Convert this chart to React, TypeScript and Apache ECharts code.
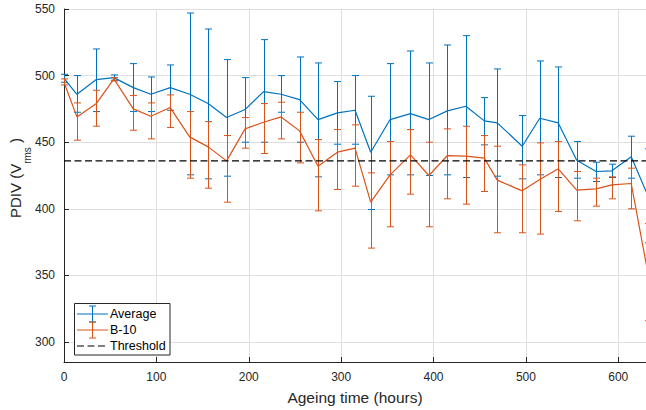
import React, { useEffect, useRef } from "react";
import * as echarts from "echarts";

// Ageing time (hours)
const times = [0, 14, 35, 54, 75, 94, 115, 136, 156, 176, 196, 216, 235, 255, 275, 296, 315, 332, 353, 375, 395, 415, 435, 455, 469, 496, 515, 535, 555, 576, 593, 614, 632];

// Average PDIV (Vrms) with error bar limits
const avgMean = [498, 486, 497, 498.5, 491, 486, 491, 486, 479, 468.5, 474.5, 488, 486, 482, 467, 472, 474, 442.5, 467, 471.5, 467, 473.5, 477, 466, 464.5, 447, 468, 464.5, 436.5, 428, 428.5, 439, 410];
const avgHigh = [501, 500, 520, 500.5, 509, 499, 508, 547, 535, 512, 498.5, 527, 500, 514, 509.5, 495.5, 500, 484.5, 509, 518.5, 509.5, 523, 530, 483.5, 505, 470, 511, 506.5, 450.5, 435, 433.5, 454.5, 445];
const avgLow = [495, 472.5, 473, 496.5, 473, 473, 474, 425.5, 422.5, 424.5, 450, 450, 472.5, 450, 424, 448.5, 448.5, 399.5, 425.5, 425.5, 425, 425.5, 423.5, 448, 424.5, 422.5, 425.5, 423.5, 423, 420.5, 423.5, 423, 374.5];

// B-10 PDIV (Vrms) with error bar limits
const b10Mean = [495, 469, 479, 497.5, 475, 469.5, 476, 454, 446.5, 436, 460, 465, 469, 458.5, 432, 442.5, 445.5, 405, 425.5, 440.5, 425, 440, 439.5, 438, 421.5, 413.5, 422, 430, 414, 415, 418, 419, 352];
const b10High = [497.5, 479.5, 489, 498.5, 485, 479.5, 485.5, 473, 465.5, 455, 468.5, 479, 480, 472.5, 452, 459.5, 463, 427, 450.5, 459.5, 450, 460, 462, 455, 447, 433, 449.5, 450.5, 428, 423, 424, 430.5, 389];
const b10Low = [493, 451.5, 462, 496, 459, 452.5, 461, 423, 415.5, 405, 445.5, 441.5, 452.5, 434.5, 398.5, 414.5, 417, 370.5, 386.5, 411, 386.5, 407.5, 403.5, 413, 382, 382, 381, 398, 391, 402, 407.5, 400, 316];

const thresholdValue = 436;
const thresholdX = [0, 630];

const seriesNames = ["Average", "B-10", "Threshold"];
const BLUE = "#0072BD";
const RED = "#D95319";
const FONT = "'Liberation Sans', Arial, Helvetica, sans-serif";
const AXIS = "#262626";
const DASH = [7, 3.5];

function errorBarSeries(name: string, low: number[], high: number[], color: string, z: number) {
  return {
    type: "custom",
    name,
    z,
    clip: false,
    silent: true,
    data: times.map((t, i) => [t, low[i], high[i]]),
    encode: { x: 0, y: [1, 2] },
    renderItem: (_params: any, api: any) => {
      const x = api.value(0);
      const pLo = api.coord([x, api.value(1)]);
      const pHi = api.coord([x, api.value(2)]);
      const cx = Math.round(pLo[0]) + 0.5;
      const w = 3.5;
      const style = { stroke: color, lineWidth: 1, fill: null };
      return {
        type: "group",
        children: [
          { type: "line", shape: { x1: cx, y1: pLo[1], x2: cx, y2: pHi[1] }, style },
          { type: "line", shape: { x1: cx - w, y1: pLo[1], x2: cx + w, y2: pLo[1] }, style },
          { type: "line", shape: { x1: cx - w, y1: pHi[1], x2: cx + w, y2: pHi[1] }, style },
        ],
      };
    },
  };
}

function legendGraphics() {
  const x0 = 77, x1 = 108, xm = 92.5, tx = 110;
  const rows = [314, 330, 346];
  const els: any[] = [
    { type: "rect", shape: { x: 74.5, y: 303.5, width: 95.5, height: 51.5 }, style: { fill: "#fff", stroke: AXIS, lineWidth: 1 }, z: 100 },
  ];
  const colors = [BLUE, RED];
  colors.forEach((c, i) => {
    const y = rows[i];
    const s = { stroke: c, lineWidth: 1 };
    els.push({ type: "line", shape: { x1: x0, y1: y, x2: x1, y2: y }, style: s, z: 101 });
    els.push({ type: "line", shape: { x1: xm, y1: y - 8, x2: xm, y2: y + 8 }, style: s, z: 101 });
    els.push({ type: "line", shape: { x1: xm - 3.5, y1: y - 8, x2: xm + 3.5, y2: y - 8 }, style: s, z: 101 });
    els.push({ type: "line", shape: { x1: xm - 3.5, y1: y + 8, x2: xm + 3.5, y2: y + 8 }, style: s, z: 101 });
  });
  els.push({ type: "line", shape: { x1: x0, y1: rows[2], x2: x1, y2: rows[2] }, style: { stroke: "#000", lineWidth: 1.2, lineDash: DASH }, z: 101 });
  seriesNames.forEach((n, i) => {
    els.push({ type: "text", x: tx, y: rows[i], style: { text: n, fontSize: 12.5, fontFamily: FONT, fill: "#000", align: "left", verticalAlign: "middle" }, z: 101 });
  });
  return els;
}

export default function App() {
  const ref = useRef<HTMLDivElement>(null);
  useEffect(() => {
    if (!ref.current) return;
    const chart = echarts.init(ref.current, undefined, { renderer: "svg" });
    chart.setOption({
      animation: false,
      backgroundColor: "#fff",
      textStyle: { fontFamily: FONT },
      grid: { left: 64, right: 0, top: 9, bottom: 46 },
      xAxis: {
        type: "value",
        min: 0,
        max: 630,
        interval: 100,
        name: "Ageing time (hours)",
        nameLocation: "middle",
        nameGap: 27,
        nameTextStyle: { fontSize: 15.5, color: AXIS, fontFamily: FONT },
        axisLine: { show: true, lineStyle: { color: AXIS, width: 1 } },
        axisTick: { show: true, inside: true, length: 5, lineStyle: { color: AXIS } },
        axisLabel: { fontSize: 12, color: AXIS, margin: 9, showMaxLabel: false, fontFamily: FONT },
        splitLine: { show: true, lineStyle: { color: "#dfdfdf", width: 1 } },
      },
      yAxis: {
        type: "value",
        min: 285,
        max: 550,
        splitNumber: 5,
        axisLine: { show: true, lineStyle: { color: AXIS, width: 1 } },
        axisTick: { show: true, inside: true, length: 5, lineStyle: { color: AXIS } },
        axisLabel: { fontSize: 12, color: AXIS, margin: 9, showMinLabel: false, fontFamily: FONT },
        splitLine: { show: true, lineStyle: { color: "#dfdfdf", width: 1 } },
      },
      graphic: [
        {
          type: "text",
          x: 20,
          y: 178,
          rotation: Math.PI / 2,
          style: {
            text: "{m|PDIV (V}{s|rms}{m| )}",
            align: "center",
            verticalAlign: "middle",
            fill: AXIS,
            rich: {
              m: { fontSize: 15, lineHeight: 18, verticalAlign: "top", fontFamily: FONT, fill: AXIS },
              s: { fontSize: 10, lineHeight: 25, padding: [11, 0, 0, 0], verticalAlign: "bottom", fontFamily: FONT, fill: AXIS },
            },
          },
        },
        ...legendGraphics(),
      ],
      series: [
        errorBarSeries("Average", avgLow, avgHigh, BLUE, 2),
        {
          type: "line",
          name: "Average",
          z: 3,
          data: times.map((t, i) => [t, avgMean[i]]),
          showSymbol: false,
          lineStyle: { color: BLUE, width: 1.2 },
          itemStyle: { color: BLUE },
        },
        errorBarSeries("B-10", b10Low, b10High, RED, 4),
        {
          type: "line",
          name: "B-10",
          z: 5,
          data: times.map((t, i) => [t, b10Mean[i]]),
          showSymbol: false,
          lineStyle: { color: RED, width: 1.2 },
          itemStyle: { color: RED },
        },
        {
          type: "line",
          name: "Threshold",
          z: 6,
          data: thresholdX.map((x) => [x, thresholdValue]),
          showSymbol: false,
          lineStyle: { color: "#000", width: 1.2, type: DASH },
        },
      ],
    });
    return () => chart.dispose();
  }, []);
  return (
    <div
      ref={ref}
      style={{ position: "fixed", left: 0, top: 0, width: 646, height: 410, background: "#fff" }}
    />
  );
}
